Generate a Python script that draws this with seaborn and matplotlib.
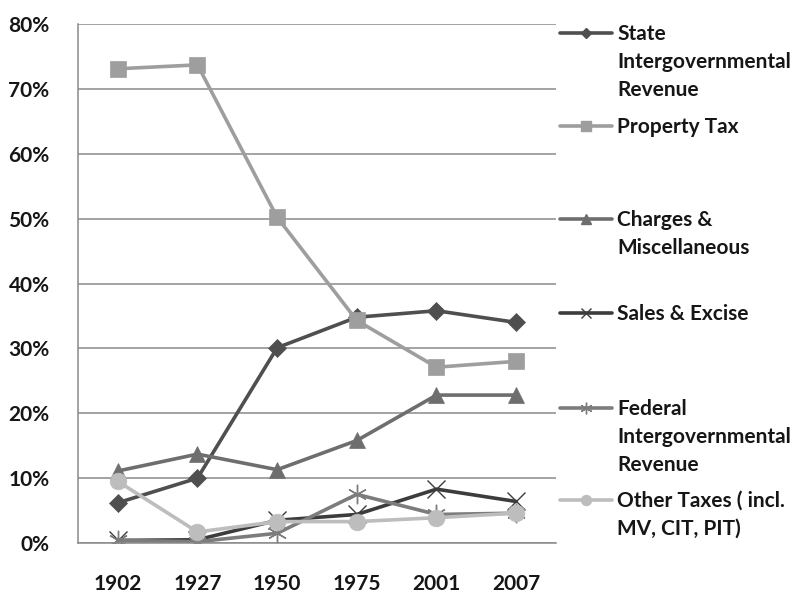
import numpy as np
import pandas as pd
import matplotlib
matplotlib.use("Agg")
import matplotlib.pyplot as plt
from matplotlib.lines import Line2D
import seaborn as sns

YEARS = ["1902", "1927", "1950", "1975", "2001", "2007"]

STATE_IG = [6.2, 10.0, 30.1, 34.8, 35.8, 34.0]
PROPERTY = [73.1, 73.7, 50.2, 34.3, 27.1, 28.0]
CHARGES = [11.1, 13.7, 11.3, 15.8, 22.8, 22.8]
SALES = [0.4, 0.5, 3.5, 4.4, 8.3, 6.4]
FEDERAL_IG = [0.4, 0.2, 1.5, 7.5, 4.4, 4.6]
OTHER = [9.5, 1.7, 3.3, 3.3, 3.9, 4.6]

LABELS = [
    "State\nIntergovernmental\nRevenue",
    "Property Tax",
    "Charges &\nMiscellaneous",
    "Sales & Excise",
    "Federal\nIntergovernmental\nRevenue",
    "Other Taxes ( incl.\nMV, CIT, PIT)",
]
SERIES = [STATE_IG, PROPERTY, CHARGES, SALES, FEDERAL_IG, OTHER]
COLORS = ["#4f4f4f", "#9e9e9e", "#6e6e6e", "#3c3c3c", "#7c7c7c", "#bdbdbd"]
MARKERS = ["D", "s", "^", "x", (6, 2, 0), "o"]
MSIZES = [9, 12, 11, 13, 14, 12]

sns.set_style("white")
plt.rcParams["font.family"] = ["Lato", "DejaVu Sans"]

fig = plt.figure(figsize=(8.04, 5.93), dpi=100)
ax = fig.add_axes([78 / 804, 1 - 543 / 593, (556 - 78) / 804, (543 - 24) / 593])

for vals, color, marker, ms in zip(SERIES, COLORS, MARKERS, MSIZES):
    df = pd.DataFrame({"year": YEARS, "value": vals})
    hollow = marker in ("x", (6, 2, 0))
    sns.lineplot(data=df, x="year", y="value", ax=ax, color=color, linewidth=2.6,
                 marker=marker, markersize=ms, markeredgecolor=color,
                 markeredgewidth=1.0 if hollow else 0.5, sort=False)

ax.set_xlim(-0.5, len(YEARS) - 0.5)
ax.set_ylim(0, 80)
ax.set_yticks(np.arange(0, 81, 10))
ax.set_yticklabels([f"{v}%" for v in range(0, 81, 10)], fontsize=15, fontweight="bold",
                   color="#161616")
ax.set_xticks(range(len(YEARS)))
ax.set_xticklabels(YEARS, fontsize=15, fontweight="bold", color="#161616")
ax.set_xticks(np.arange(-0.5, len(YEARS), 1.0), minor=True)
ax.tick_params(axis="x", which="major", length=0, pad=22)
ax.tick_params(axis="x", which="minor", length=7, color="#8a8a8a", direction="out")
ax.tick_params(axis="y", length=6.5, color="#8a8a8a", direction="out", pad=14)
ax.set_xlabel("")
ax.set_ylabel("")
ax.grid(axis="y", color="#8a8a8a", linewidth=1.1)
ax.set_axisbelow(True)
for side in ["top", "right"]:
    ax.spines[side].set_visible(False)
for side in ["left", "bottom"]:
    ax.spines[side].set_color("#8a8a8a")
    ax.spines[side].set_linewidth(1.1)

# legend drawn by hand so the handle sits on the first text line like in Excel
legend_y = [33, 126, 219, 313, 408, 500]
for y, lab, color, marker, ms in zip(legend_y, LABELS, COLORS, MARKERS, MSIZES):
    yf = 1 - y / 593
    fig.add_artist(Line2D([560 / 804, 612 / 804], [yf, yf], color=color, linewidth=2.6,
                          transform=fig.transFigure))
    fig.add_artist(Line2D([586 / 804], [yf], color=color, marker=marker, markersize=ms * 0.6,
                          markeredgecolor=color, linestyle="none", transform=fig.transFigure))
    fig.text(617 / 804, yf + 9 / 593, lab, fontsize=15, fontweight="bold", color="#161616",
             va="top", ha="left", linespacing=1.5, transform=fig.transFigure)

fig.savefig("out.png", dpi=100)
